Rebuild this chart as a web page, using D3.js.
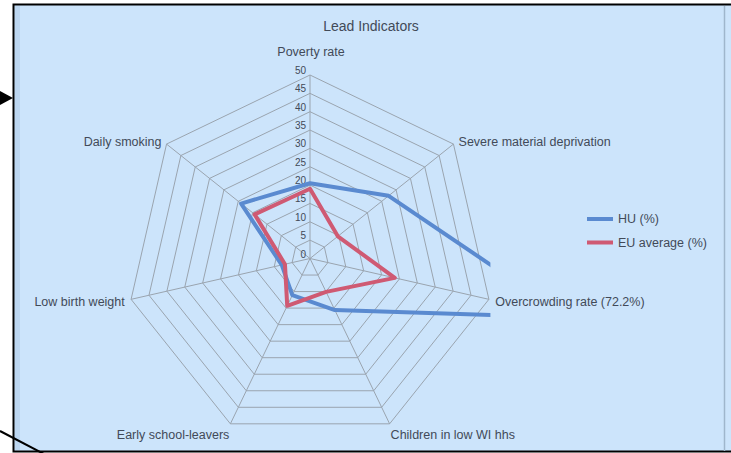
<!DOCTYPE html>
<html><head><meta charset="utf-8">
<script src="https://cdn.jsdelivr.net/npm/d3@7"></script>
<style>html,body{margin:0;padding:0;background:#fff;overflow:hidden}svg{display:block}</style>
</head><body>
<svg id="c" width="731" height="453"></svg>
<script>
const categories = ["Poverty rate","Severe material deprivation","Overcrowding rate (72.2%)","Children in low WI hhs","Early school-leavers","Low birth weight","Daily smoking"];
const huValues = [20.5, 27.4, 72.2, 15.6, 11.1, 7.9, 24.0];
const euValues = [19.0, 9.7, 23.7, 10.1, 14.3, 7.0, 19.3];
const seriesNames = ["HU (%)", "EU average (%)"];
const tickValues = [0,5,10,15,20,25,30,35,40,45,50];
const title = "Lead Indicators";

const svg = d3.select("#c");
const W = 731, H = 453;
const font = "'Liberation Sans', Arial, sans-serif";
const textColor = "#424a58";
const colors = ["#5a8ad0", "#cf5a73"];

// frame
svg.append("rect").attr("x",13.5).attr("y",4.5).attr("width",W).attr("height",447).attr("fill","#cce4fb").attr("stroke","#000").attr("stroke-width",2);
svg.append("rect").attr("x",15).attr("y",6).attr("width",5).attr("height",444).attr("fill","#bcd6f0");
svg.append("line").attr("x1",724.5).attr("x2",724.5).attr("y1",6).attr("y2",451).attr("stroke","#9fb6cc").attr("stroke-width",1.5);
// annotation arrows from the document
svg.append("path").attr("d","M0,91 L13,98 L0,105 Z").attr("fill","#000");
svg.append("line").attr("x1",0).attr("y1",431).attr("x2",44).attr("y2",454).attr("stroke","#000").attr("stroke-width",2);

const cx = 310, cy = 258.5, R = 183.5;
const r = d3.scaleLinear().domain([0,50]).range([0,R]);
const n = categories.length;
const ang = d3.scaleLinear().domain([0,n]).range([0, 2*Math.PI]);
const pt = (i, v) => [cx + r(v)*Math.sin(ang(i)), cy - r(v)*Math.cos(ang(i))];

const g = svg.append("g");
const gridColor = "#9aa4af";
// grid polygons
tickValues.slice(1).forEach(t => {
  const pts = d3.range(n).map(i => pt(i, t));
  g.append("polygon").attr("points", pts.map(p=>p.join(",")).join(" "))
    .attr("fill","none").attr("stroke",gridColor).attr("stroke-width",1);
});
// spokes
d3.range(n).forEach(i => {
  const p = pt(i, 50);
  g.append("line").attr("x1",cx).attr("y1",cy).attr("x2",p[0]).attr("y2",p[1])
    .attr("stroke",gridColor).attr("stroke-width",1);
});
// tick labels
tickValues.forEach(t => {
  g.append("text").attr("x", cx-4).attr("y", cy - r(t) - 4.5).attr("dy","0.35em")
    .attr("text-anchor","end").attr("font-family",font).attr("font-size",10)
    .attr("fill",textColor).text(t);
});
// category labels
categories.forEach((c,i) => {
  const a = ang(i), s = Math.sin(a), co = Math.cos(a);
  const p = pt(i, 50);
  let x = p[0] + 6.5*s, y, anchor;
  if (Math.abs(s) < 0.1) { anchor = "middle"; x = p[0]+1; y = p[1]-23; }
  else {
    anchor = s > 0 ? "start" : "end";
    if (co < -0.8) { y = p[1] + 11; x = p[0] + 1*Math.sign(s); }
    else y = p[1] + (co > 0 ? -2.5 : 2);
  }
  g.append("text").attr("x",x).attr("y",y).attr("dy","0.35em").attr("text-anchor",anchor)
    .attr("font-family",font).attr("font-size",12.5).attr("fill",textColor).text(c);
});
// clip for series
const clipR = pt(2,50)[0];
svg.append("clipPath").attr("id","plotclip").append("rect")
  .attr("x", 2*cx - clipR - 1.5).attr("y", cy - R - 1.5)
  .attr("width", 2*(clipR - cx) + 3).attr("height", R + R*Math.abs(Math.cos(ang(3))) + 3);
const line = d3.lineRadial().angle((d,i)=>ang(i)).radius(d=>r(d)).curve(d3.curveLinearClosed);
const sg = svg.append("g").attr("clip-path","url(#plotclip)").append("g").attr("transform",`translate(${cx},${cy})`);
[huValues, euValues].forEach((vals, k) => {
  sg.append("path").attr("d", line(vals)).attr("fill","none").attr("stroke",colors[k])
    .attr("stroke-width",4).attr("stroke-linejoin","round");
});
// title
svg.append("text").attr("x",371).attr("y",26).attr("dy","0.35em").attr("text-anchor","middle")
  .attr("font-family",font).attr("font-size",14).attr("fill",textColor).text(title);
// legend
seriesNames.forEach((s,k) => {
  const y = 219 + k*23.5;
  svg.append("line").attr("x1",587).attr("x2",613).attr("y1",y).attr("y2",y).attr("stroke",colors[k]).attr("stroke-width",4);
  svg.append("text").attr("x",618).attr("y",y).attr("dy","0.35em").attr("font-family",font).attr("font-size",12.5).attr("fill",textColor).text(s);
});
</script>
</body></html>
